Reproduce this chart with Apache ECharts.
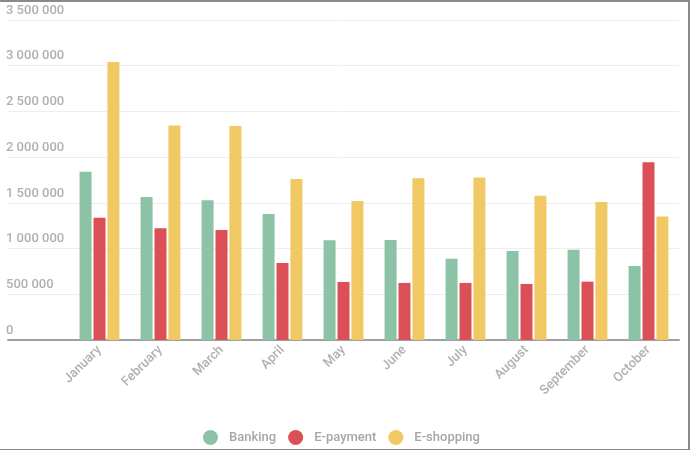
<!DOCTYPE html>
<html>
<head>
<meta charset="utf-8">
<script src="https://cdn.jsdelivr.net/npm/echarts@6/dist/echarts.min.js"></script>
<style>
html,body{margin:0;padding:0;background:#fff;}
#frame{width:690px;height:450px;box-sizing:border-box;border-top:2px solid #8a8a8a;border-right:2px solid #8a8a8a;border-bottom:1px solid #8a8a8a;position:relative;}
#chart{position:absolute;left:0;top:-2px;width:690px;height:450px;}
</style>
</head>
<body>
<div id="frame"><div id="chart"></div></div>
<script>
const categories = ['January','February','March','April','May','June','July','August','September','October'];
const banking   = [1840000,1565000,1529000,1379000,1090000,1094000,890000,974000,988000,810000];
const epayment  = [1338000,1222000,1203000,842000,635000,624000,624000,613000,638000,1944000];
const eshopping = [3040000,2345000,2341000,1761000,1520000,1770000,1776000,1579000,1510000,1350000];
const yTicks = {min:0, max:3500000, interval:500000};

function fmt(v){ return String(v).replace(/\B(?=(\d{3})+(?!\d))/g,' '); }
const xData = [''].concat(categories);
const pad = arr => [null].concat(arr);

const chart = echarts.init(document.getElementById('chart'));
const labelColor = '#b0b0b0';
chart.setOption({
  animation:false,
  color:['#8cc2a6','#db5056','#f0c964'],
  grid:{left:8,right:11,top:20,bottom:110,containLabel:false},
  legend:{
    bottom:0, left:198,
    icon:'circle', itemWidth:15, itemHeight:15, itemGap:12,
    textStyle:{color:'#a6a6a6',fontSize:13,fontFamily:'Roboto',fontWeight:500,padding:[0,0,0,6]},
    data:['Banking','E-payment','E-shopping']
  },
  xAxis:{
    type:'category', data:xData, boundaryGap:true,
    axisLine:{lineStyle:{color:'#a0a0a0',width:2}},
    axisTick:{length:6,lineStyle:{color:'#b0b0b0'},interval:function(i){return i!==0;}},
    axisLabel:{rotate:45,color:labelColor,fontSize:13,fontFamily:'Roboto',fontWeight:500,margin:8,interval:0}
  },
  yAxis:{
    type:'value', min:yTicks.min, max:yTicks.max, interval:yTicks.interval,
    axisLine:{show:false}, axisTick:{show:false},
    splitLine:{lineStyle:{color:'#eeeeee'}},
    axisLabel:{inside:true,align:'left',verticalAlign:'bottom',margin:-2,padding:[0,0,3,0],
      color:labelColor,fontSize:13,fontFamily:'Roboto',fontWeight:500,formatter:fmt}
  },
  series:[
    {name:'Banking',type:'bar',data:pad(banking),barWidth:12,barGap:'16%'},
    {name:'E-payment',type:'bar',data:pad(epayment),barWidth:12,barGap:'16%'},
    {name:'E-shopping',type:'bar',data:pad(eshopping),barWidth:12,barGap:'16%'}
  ]
});
</script>
</body>
</html>
